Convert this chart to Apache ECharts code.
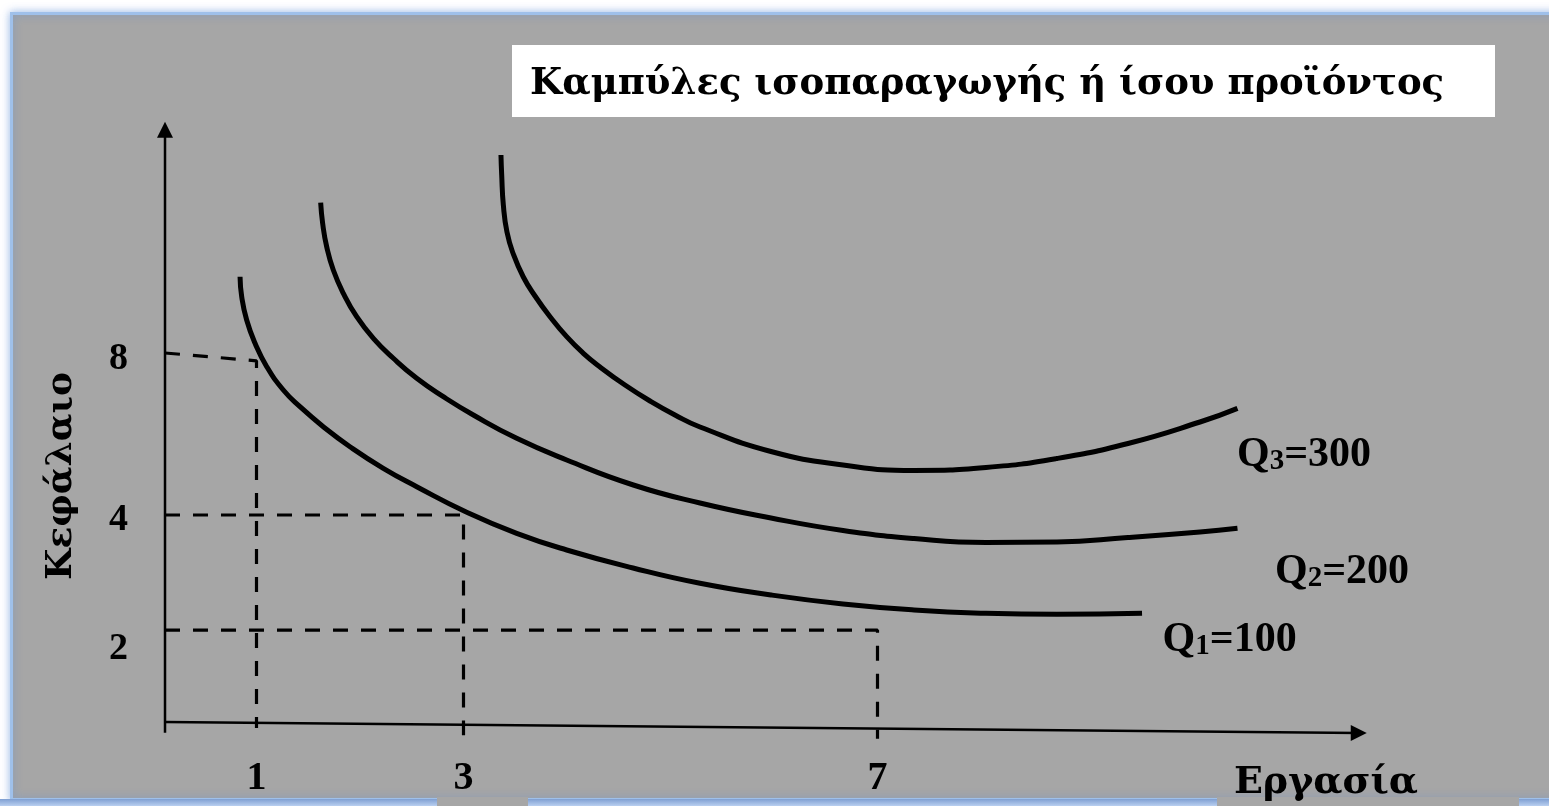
<!DOCTYPE html>
<html>
<head>
<meta charset="utf-8">
<script src="https://cdn.jsdelivr.net/npm/echarts@6/dist/echarts.min.js"></script>
<style>
html,body{margin:0;padding:0;background:#ffffff;}
#chart{width:1549px;height:806px;}
</style>
</head>
<body>
<div id="chart"></div>
<script>
// ---------- data ----------
// Labour (x) axis tick labels
const laborTicks = [1, 3, 7];
// Capital (y) axis tick labels and where the (not-to-scale) sketch puts them on its capital axis
const capitalTickLabels = ['8', '4', '2'];
const capitalTickAt = [6.05, 3.37, 1.22];

// Dashed guide lines: labour value, capital level at the y-axis, at the corner, and where the drop line ends
const guideLabor = [1, 3, 7];
const guideCapitalStart = [6.15, 3.45, 1.53];
const guideCapitalCorner = [6.02, 3.45, 1.53];
const guideCapitalEnd = [-0.10, -0.22, -0.28];

// Isoquants: [labour, capital]
const q1 = [[0.841,7.422],[0.857,7.088],[0.905,6.700],[0.986,6.312],[1.099,5.922],[1.259,5.533],[1.420,5.255],[1.645,4.922],[1.903,4.588],[2.225,4.228],[2.548,3.922],[3.021,3.505],[3.514,3.145],[3.997,2.867],[4.638,2.567],[5.285,2.312],[5.971,2.117],[6.667,1.967],[7.353,1.867],[8.048,1.812],[8.734,1.795],[9.556,1.812]];
const q2 = [[1.620,8.655],[1.639,8.312],[1.678,7.922],[1.742,7.533],[1.839,7.145],[1.968,6.755],[2.129,6.395],[2.322,6.062],[2.548,5.728],[2.805,5.422],[3.095,5.117],[3.514,4.728],[3.997,4.367],[4.641,3.950],[5.285,3.650],[5.971,3.400],[6.667,3.192],[7.353,3.058],[8.048,2.992],[8.734,3.000],[9.420,3.075],[10.116,3.167],[10.478,3.228]];
const q3 = [[3.362,9.450],[3.369,9.117],[3.385,8.617],[3.420,8.167],[3.481,7.800],[3.578,7.417],[3.691,7.100],[3.836,6.755],[3.997,6.422],[4.158,6.145],[4.319,5.917],[4.560,5.617],[4.802,5.350],[5.043,5.117],[5.285,4.917],[5.971,4.508],[6.667,4.283],[7.353,4.192],[8.048,4.242],[8.734,4.392],[9.420,4.642],[10.116,5.000],[10.478,5.228]];
const isoquantIndex = ['1', '2', '3'];
const isoquantOutput = [100, 200, 300];

// Hand-drawn axes (in the chart's own units)
const yAxisLine = [[0.116, -0.18], [0.116, 9.87]];
const xAxisLine = [[0.116, 0], [11.65, -0.183]];

// Texts
const titleText = 'Καμπύλες ισοπαραγωγής ή ίσου προϊόντος';
const xName = 'Εργασία';
const yName = 'Κεφάλαιο';

// ---------- chart ----------
const SERIF = "'Liberation Serif', 'DejaVu Serif', serif";
const GREEK = "'DejaVu Serif', 'Liberation Serif', serif";
const chart = echarts.init(document.getElementById('chart'), null, {renderer: 'canvas'});

function nearIndex(arr, v) {
  for (let i = 0; i < arr.length; i++) if (Math.abs(arr[i] - v) < 1e-6) return i;
  return -1;
}

const curves = [q1, q2, q3];
const labelOffsets = [[21, 6], [38, 23], [0, 26]];

const series = [];

// guides
guideLabor.forEach((lx, i) => {
  series.push({
    type: 'line', name: 'guide' + i, silent: true, animation: false,
    data: [[yAxisLine[0][0], guideCapitalStart[i]], [lx, guideCapitalCorner[i]], [lx, guideCapitalEnd[i]]],
    showSymbol: false, symbol: 'none', z: 3,
    lineStyle: {color: '#000', width: 3.2, type: [15, 13]}
  });
});

// axes
series.push({
  type: 'line', name: 'axisY', silent: true, animation: false, data: yAxisLine,
  symbol: (v, p) => (p.dataIndex === 1 ? 'triangle' : 'none'), symbolSize: [16, 16], showSymbol: true,
  itemStyle: {color: '#000'}, lineStyle: {color: '#000', width: 2.5}, z: 4
});
series.push({
  type: 'line', name: 'axisX', silent: true, animation: false, data: xAxisLine,
  symbol: (v, p) => (p.dataIndex === 1 ? 'triangle' : 'none'), symbolSize: [16, 16], symbolRotate: -90, showSymbol: true,
  itemStyle: {color: '#000'}, lineStyle: {color: '#000', width: 2.5}, z: 4
});

// isoquants
curves.forEach((q, i) => {
  series.push({
    type: 'line', name: 'Q' + isoquantIndex[i], silent: true, animation: false, data: q,
    smooth: 0.5, showSymbol: false, symbol: 'none', z: 5,
    lineStyle: {color: '#000', width: 5, cap: 'butt', join: 'round'}
  });
});

// isoquant labels at curve ends
series.push({
  type: 'scatter', name: 'labels', silent: true, animation: false, symbolSize: 1,
  itemStyle: {color: 'rgba(0,0,0,0)'}, z: 6,
  data: curves.map((q, i) => ({
    value: q[q.length - 1],
    label: {position: labelOffsets[i]}
  })),
  label: {
    show: true, color: '#000', opacity: 1,
    formatter: p => '{a|Q}{s|' + isoquantIndex[p.dataIndex] + '}{a|=' + isoquantOutput[p.dataIndex] + '}',
    rich: {
      a: {fontFamily: SERIF, fontWeight: 'bold', fontSize: 42, lineHeight: 42, verticalAlign: 'top', color: '#000'},
      s: {fontFamily: SERIF, fontWeight: 'bold', fontSize: 29, lineHeight: 8, verticalAlign: 'bottom', color: '#000'}
    }
  }
});

const option = {
  backgroundColor: '#ffffff',
  animation: false,
  grid: {left: 153, right: 50.5, top: 122, bottom: 54, containLabel: false},
  xAxis: {
    type: 'value', min: 0, max: 13, interval: 1,
    axisLine: {show: false}, axisTick: {show: false}, splitLine: {show: false},
    axisLabel: {
      margin: 7, fontSize: 40, fontFamily: SERIF, fontWeight: 'bold', color: '#000',
      formatter: v => (laborTicks.indexOf(v) >= 0 ? String(v) : '')
    }
  },
  yAxis: {
    type: 'value', min: -0.5, max: 10,
    axisLine: {show: false}, axisTick: {show: false}, splitLine: {show: false},
    axisLabel: {
      customValues: capitalTickAt,
      margin: 25, fontSize: 38, fontFamily: SERIF, fontWeight: 'bold', color: '#000',
      formatter: v => { const k = nearIndex(capitalTickAt, v); return k >= 0 ? capitalTickLabels[k] : ''; }
    }
  },
  graphic: [
    {type: 'rect', z: -10, silent: true,
      shape: {x: 11.5, y: 13.5, width: 1600, height: 786},
      style: {fill: '#a6a6a6', stroke: '#9fc0ea', lineWidth: 3, shadowBlur: 8, shadowColor: 'rgba(90,140,215,0.6)'}},
    {type: 'rect', z: -9, silent: true, shape: {x: 0, y: 799, width: 1549, height: 7},
      style: {fill: {type: 'linear', x: 0, y: 0, x2: 0, y2: 1, colorStops: [{offset: 0, color: '#7f9fd2'}, {offset: 1, color: '#b9cff0'}]}}},
    {type: 'rect', z: -8, silent: true, shape: {x: 437, y: 797, width: 91, height: 9}, style: {fill: '#a6a6a6'}},
    {type: 'rect', z: -8, silent: true, shape: {x: 1217, y: 797, width: 302, height: 9}, style: {fill: '#a6a6a6'}},
    {type: 'rect', z: -8, silent: true, shape: {x: 512, y: 45, width: 983, height: 72}, style: {fill: '#ffffff'}},
    {type: 'text', z: 10, silent: true, x: 530, y: 84,
      style: {text: titleText, fontFamily: GREEK, fontWeight: 'bold', fontSize: 37, fill: '#000', align: 'left', verticalAlign: 'middle'}},
    {type: 'text', z: 10, silent: true, x: 62, y: 476, rotation: Math.PI / 2,
      style: {text: yName, fontFamily: GREEK, fontWeight: 'bold', fontSize: 36, fill: '#000', align: 'center', verticalAlign: 'middle'}},
    {type: 'text', z: 10, silent: true, x: 1326, y: 783,
      style: {text: xName, fontFamily: GREEK, fontWeight: 'bold', fontSize: 38, fill: '#000', align: 'center', verticalAlign: 'middle'}}
  ],
  series: series
};
chart.setOption(option);
</script>
</body>
</html>
